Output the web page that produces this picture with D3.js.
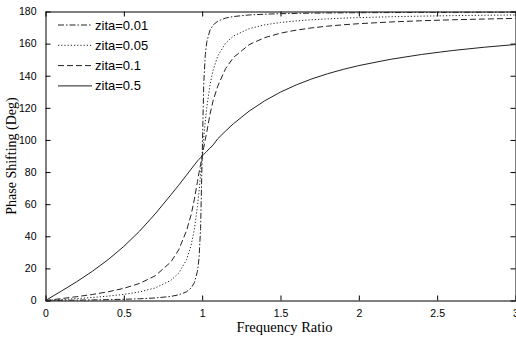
<!DOCTYPE html>
<html>
<head>
<meta charset="utf-8">
<script src="https://cdn.jsdelivr.net/npm/d3@7/dist/d3.min.js"></script>
<style>
  html, body { margin: 0; padding: 0; background: #fff; }
  svg { display: block; }
</style>
</head>
<body>
<svg id="chart" width="516" height="339"></svg>
<script>
// frequency ratio samples (denser near resonance)
const ratio = [0, 0.1, 0.2, 0.3, 0.4, 0.5, 0.6, 0.7, 0.8, 0.85, 0.9, 0.93, 0.95, 0.97, 0.98, 0.99, 1.0,
  1.01, 1.02, 1.03, 1.05, 1.07, 1.1, 1.15, 1.2, 1.3, 1.4, 1.5, 1.6, 1.7, 1.8, 1.9, 2.0, 2.2, 2.4, 2.6, 2.8, 3.0];

// phase in degrees
const zita001 = [0, 0.12, 0.24, 0.38, 0.55, 0.76, 1.07, 1.57, 2.54, 3.51, 5.41, 7.84, 11.03, 18.17, 26.33, 44.86, 90,
  134.86, 153.21, 161.31, 168.42, 171.6, 174.02, 175.92, 176.88, 177.84, 178.33, 178.63,
  178.82, 178.97, 179.08, 179.17, 179.24, 179.34, 179.42, 179.48, 179.53, 179.57];
const zita005 = [0, 0.58, 1.19, 1.89, 2.73, 3.81, 5.36, 7.82, 12.53, 17.03, 25.35, 34.54, 44.25, 58.65, 68.0, 78.63, 90,
  101.26, 111.61, 120.59, 134.31, 143.56, 152.35, 160.37, 164.74, 169.33, 171.7, 173.16,
  174.14, 174.86, 175.41, 175.84, 176.19, 176.72, 177.11, 177.42, 177.66, 177.85];
const zita01 = [0, 1.16, 2.39, 3.77, 5.44, 7.59, 10.62, 15.35, 23.96, 31.49, 43.45, 53.6, 62.84, 74.1, 79.6, 84.8, 90,
  95.2, 100.3, 105.2, 116.02, 124.5, 133.67, 144.51, 151.39, 159.35, 163.74, 166.5,
  168.41, 169.8, 170.87, 171.72, 172.41, 173.46, 174.24, 174.84, 175.32, 175.71];
const zita05 = [0, 5.77, 11.77, 18.25, 25.46, 33.69, 43.15, 53.93, 65.77, 71.8, 78.08, 81.9, 84.4, 86.9, 87.9, 89.0, 90,
  91.0, 92.0, 93.0, 94.9, 96.9, 100.81, 105.6, 110.14, 117.96, 124.44, 129.81,
  134.27, 138.03, 141.22, 143.94, 146.31, 150.19, 153.24, 155.71, 157.74, 159.44];

const seriesNames = ["zita=0.01", "zita=0.05", "zita=0.1", "zita=0.5"];
const seriesValues = [zita001, zita005, zita01, zita05];
const dashes = ["6,2,1.5,2", "1.2,2", "6,3", null];

const xTicks = [0, 0.5, 1, 1.5, 2, 2.5, 3];
const yTicks = [0, 20, 40, 60, 80, 100, 120, 140, 160, 180];

const svg = d3.select("#chart");
const plotLeft = 45.5, plotRight = 515.5, plotTop = 11.5, plotBottom = 300.5;

const x = d3.scaleLinear().domain([0, 3]).range([plotLeft, plotRight]);
const y = d3.scaleLinear().domain([0, 180]).range([plotBottom, plotTop]);

const tickFont = "'Liberation Sans', Arial, sans-serif";
const serif = "'Liberation Serif', 'Times New Roman', serif";

// axes (MATLAB style box with inward ticks)
const xAxis = svg.append("g")
  .attr("transform", `translate(0,${plotBottom})`)
  .call(d3.axisBottom(x).tickValues(xTicks).tickSizeInner(-5).tickSizeOuter(0).tickPadding(9).tickFormat(d3.format("")));
const yAxis = svg.append("g")
  .attr("transform", `translate(${plotLeft},0)`)
  .call(d3.axisLeft(y).tickValues(yTicks).tickSizeInner(-5).tickSizeOuter(0).tickPadding(9));
const xTop = svg.append("g")
  .attr("transform", `translate(0,${plotTop})`)
  .call(d3.axisTop(x).tickValues(xTicks).tickSizeInner(-5).tickSizeOuter(0).tickFormat(""));
const yRight = svg.append("g")
  .attr("transform", `translate(${plotRight},0)`)
  .call(d3.axisRight(y).tickValues(yTicks).tickSizeInner(-5).tickSizeOuter(0).tickFormat(""));

[xAxis, yAxis, xTop, yRight].forEach(g => {
  g.select(".domain").attr("stroke", "#000").attr("stroke-width", 1);
  g.selectAll(".tick line").attr("stroke", "#000");
  g.selectAll("text").attr("font-family", tickFont).attr("font-size", 10.5).attr("fill", "#000");
});

// curves
const line = d3.line()
  .x((d, i) => x(ratio[i]))
  .y(d => y(d));

svg.append("g")
  .selectAll("path")
  .data(seriesValues)
  .join("path")
  .attr("d", line)
  .attr("fill", "none")
  .attr("stroke", "#222")
  .attr("stroke-width", 1)
  .attr("stroke-dasharray", (d, i) => dashes[i]);

// legend
const legend = svg.append("g")
  .selectAll("g")
  .data(seriesNames)
  .join("g")
  .attr("transform", (d, i) => `translate(58,${25 + i * 20.3})`);
legend.append("line")
  .attr("x1", 0).attr("x2", 34)
  .attr("stroke", "#222")
  .attr("stroke-width", 1)
  .attr("stroke-dasharray", (d, i) => dashes[i]);
legend.append("text")
  .attr("x", 37)
  .attr("dy", "0.35em")
  .attr("font-family", tickFont)
  .attr("font-size", 13)
  .text(d => d);

// axis titles
svg.append("text")
  .attr("x", (plotLeft + plotRight) / 2 + 4)
  .attr("y", 332)
  .attr("text-anchor", "middle")
  .attr("font-family", serif)
  .attr("font-size", 14.5)
  .text("Frequency Ratio");

svg.append("text")
  .attr("transform", `translate(16,${(plotTop + plotBottom) / 2}) rotate(-90)`)
  .attr("text-anchor", "middle")
  .attr("font-family", serif)
  .attr("font-size", 14)
  .text("Phase Shifting (Deg)");
</script>
</body>
</html>
